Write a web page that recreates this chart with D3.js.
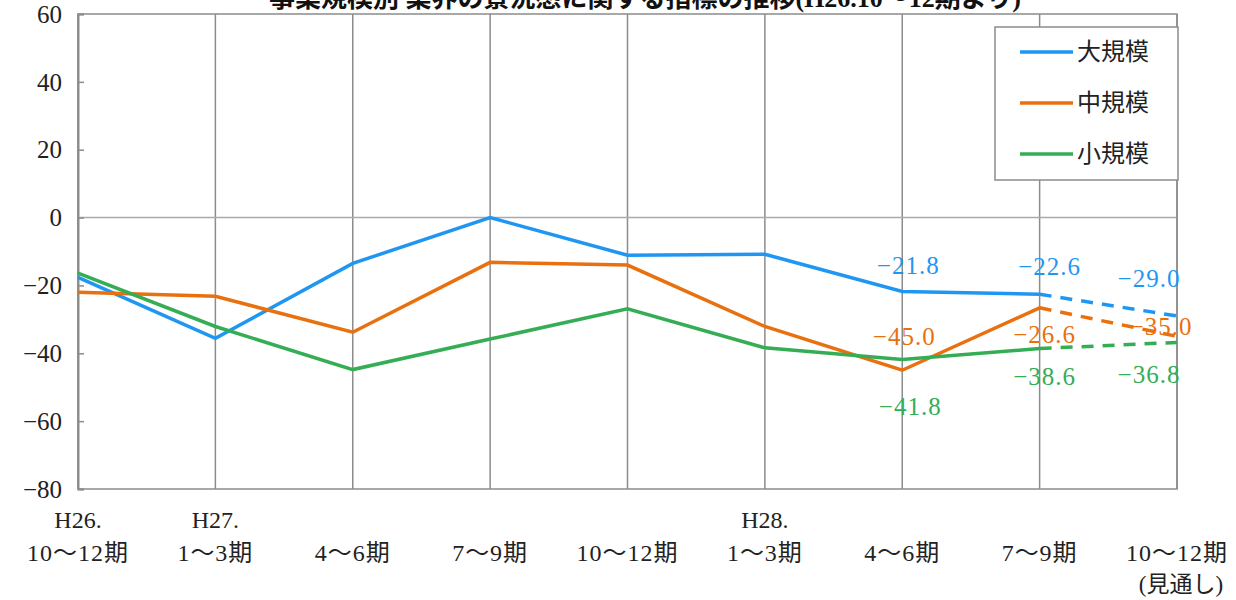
<!DOCTYPE html>
<html><head><meta charset="utf-8">
<script src="https://cdn.jsdelivr.net/npm/d3@7"></script>
<style>
body{margin:0;background:#fff;}
svg text{font-family:"Liberation Serif","Noto Sans CJK JP",serif;}
</style></head><body>
<svg id="c" width="1236" height="600"></svg>
<script>
const title = "事業規模別 業界の景況感に関する指標の推移(H26.10～12期より)";
const catTop = ["H26.","H27.","","","","H28.","","",""];
const catMain = ["10～12期","1～3期","4～6期","7～9期","10～12期","1～3期","4～6期","7～9期","10～12期"];
const catSub = ["","","","","","","","","(見通し)"];
const seriesNames = ["大規模","中規模","小規模"];
const seriesColors = ["#1f97f2","#e8700f","#35ad55"];
const large = [-17.6,-35.6,-13.5,0.0,-11.1,-10.8,-21.8,-22.6,-29.0];
const medium = [-22.0,-23.2,-33.8,-13.2,-14.0,-32.1,-45.0,-26.6,-35.0];
const small = [-16.4,-32.1,-44.8,-35.8,-26.9,-38.4,-41.8,-38.6,-36.8];
const yTicks = [60,40,20,0,-20,-40,-60,-80];
const labeledIdx = [6,7,8];

const data = [large, medium, small];
const svg = d3.select("#c");
const L=78,R=1177,T=14,B=489;
const x = d3.scaleLinear().domain([0,catMain.length-1]).range([L,R]);
const y = d3.scaleLinear().domain([-80,60]).range([B,T]);
const grid="#8c8c8c";

// vertical grid lines
svg.append("g").selectAll("line").data(d3.range(catMain.length)).join("line")
  .attr("x1",d=>x(d)).attr("x2",d=>x(d)).attr("y1",T).attr("y2",B)
  .attr("stroke",grid).attr("stroke-width",1.5);
// zero line
svg.append("line").attr("x1",L).attr("x2",R).attr("y1",y(0)).attr("y2",y(0))
  .attr("stroke","#aaa").attr("stroke-width",1.5);
// frame
svg.append("rect").attr("x",L).attr("y",T).attr("width",R-L).attr("height",B-T)
  .attr("fill","none").attr("stroke",grid).attr("stroke-width",1.5);

// y axis ticks
const ya = svg.append("g").attr("transform",`translate(${L},0)`)
  .call(d3.axisRight(y).tickValues(yTicks).tickSize(6).tickFormat(""));
ya.select(".domain").attr("stroke",grid).attr("stroke-width",2);
ya.selectAll(".tick line").attr("stroke",grid).attr("stroke-width",1.5);
// y tick labels
svg.append("g").selectAll("text").data(yTicks).join("text")
  .attr("x",L-16).attr("y",d=>y(d)).attr("dy","0.35em").attr("text-anchor","end")
  .attr("font-size",25).attr("fill","#222")
  .text(d=>d<0?"−"+Math.abs(d):String(d));

// x labels
const xl = svg.append("g").attr("font-size",24).attr("fill","#222").attr("text-anchor","middle");
catMain.forEach((c,i)=>{
  xl.append("text").attr("x",x(i)).attr("y",528).text(catTop[i]);
  xl.append("text").attr("x",x(i)).attr("y",561).attr("letter-spacing",1).text(c);
  xl.append("text").attr("x",x(i)+4).attr("y",592).attr("font-size",23).text(catSub[i]);
});

// title
svg.append("text").attr("x",645).attr("y",7).attr("text-anchor","middle").attr("font-size",26)
  .attr("font-weight","bold").attr("fill","#111").text(title);

// lines
const n = catMain.length;
const line = d3.line().x(d=>x(d.i)).y(d=>y(d.v));
data.forEach((s,k)=>{
  const pts = s.map((v,i)=>({i,v}));
  svg.append("path").datum(pts.slice(0,n-1)).attr("d",line).attr("fill","none")
    .attr("stroke",seriesColors[k]).attr("stroke-width",3.5).attr("stroke-linejoin","miter");
  svg.append("path").datum(pts.slice(n-2)).attr("d",line).attr("fill","none")
    .attr("stroke",seriesColors[k]).attr("stroke-width",3.5).attr("stroke-dasharray","12,9");
});

// data labels
const lblOff = [
  [[6,-26],[10,-28],[-28,-38]],
  [[2,-34],[5,26],[-16,-10]],
  [[8,47],[5,28],[-28,32]]
];
data.forEach((s,k)=>{
  labeledIdx.forEach((i,j)=>{
    const o = lblOff[k][j];
    svg.append("text").attr("x",x(i)+o[0]).attr("y",y(s[i])+o[1]).attr("dy","0.35em")
      .attr("text-anchor","middle").attr("font-size",25).attr("letter-spacing",1)
      .attr("fill",seriesColors[k])
      .text("−"+Math.abs(s[i]).toFixed(1));
  });
});

// legend
const lg = svg.append("g");
lg.append("rect").attr("x",995).attr("y",27).attr("width",183).attr("height",153)
  .attr("fill","#fff").attr("stroke",grid).attr("stroke-width",1.5);
seriesNames.forEach((nm,k)=>{
  const yy = 52 + k*51;
  lg.append("line").attr("x1",1020).attr("x2",1073).attr("y1",yy).attr("y2",yy)
    .attr("stroke",seriesColors[k]).attr("stroke-width",3.5);
  lg.append("text").attr("x",1077).attr("y",yy).attr("dy","0.35em").attr("font-size",24)
    .attr("fill","#222").text(nm);
});
</script></body></html>
